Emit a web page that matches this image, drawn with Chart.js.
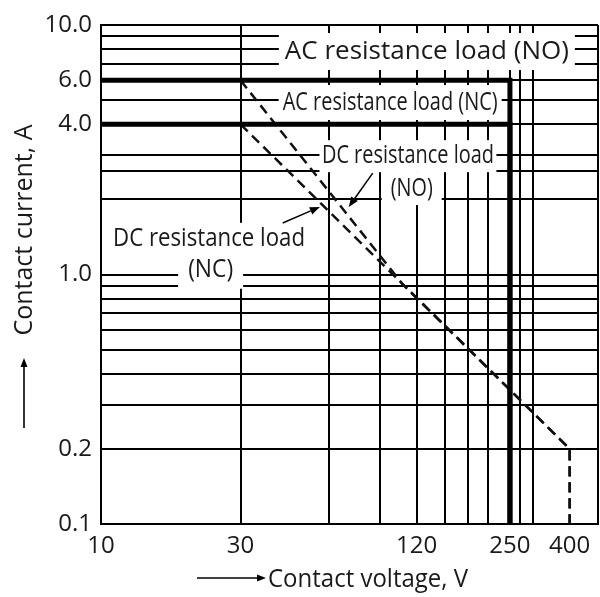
<!DOCTYPE html>
<html>
<head>
<meta charset="utf-8">
<script src="https://cdn.jsdelivr.net/npm/chart.js@4.4.0/dist/chart.umd.min.js"></script>
<style>
  html, body { margin: 0; padding: 0; background: #fff; }
  #wrap { width: 600px; height: 597px; }
</style>
</head>
<body>
<div id="wrap"><canvas id="chart" width="600" height="597"></canvas></div>
<script>
// contact voltage (V) and contact current (A) for each curve
const acNoVoltage = [10, 250, 250];
const acNoCurrent = [6, 6, 0.1];
const acNcVoltage = [10, 250, 250];
const acNcCurrent = [4, 4, 0.1];
const dcNoVoltage = [30, 107, 400, 400];
const dcNoCurrent = [6, 0.92, 0.2, 0.1];
const dcNcVoltage = [30, 107, 400, 400];
const dcNcCurrent = [4, 0.92, 0.2, 0.1];

// grid lines and the few values that get a label
const xGridValues = [10, 30, 60, 90, 120, 150, 180, 210, 250, 270, 300, 400, 500];
const xTickLabels = { 10: '10', 30: '30', 120: '120', 250: '250', 400: '400' };
const yGridValues = [0.1, 0.2, 0.3, 0.4, 0.5, 0.6, 0.7, 0.8, 0.9, 1, 2, 2.6, 3, 4, 5, 6, 7, 8, 9, 10];
const yTickLabels = { 0.1: '0.1', 0.2: '0.2', 1: '1.0', 4: '4.0', 6: '6.0', 10: '10.0' };

const textColor = '#1a1a1a';
const lineColor = '#000';
const family = '"Open Sans", "Noto Sans", sans-serif';

// curve labels, anchored in data units (V, A); box = white knock-out behind the text
const curveLabels = [
  { text: 'AC resistance load (NO)', at: [130, 7.83], size: 26, width: 293, box: [296, 37] },
  { text: 'AC resistance load (NC)', at: [97.4, 4.89], size: 25, width: 215, box: [223, 35] },
  { text: 'DC resistance load', at: [112, 2.98], size: 25, width: 172, box: [177, 32] },
  { text: '(NO)', at: [115.4, 2.21], size: 25, width: 42, box: [60, 33] },
  { text: 'DC resistance load', at: [23.4, 1.39], size: 25, width: 192, box: [198, 32] },
  { text: '(NC)', at: [23.7, 1.04], size: 25, width: 45, box: [65, 37] }
];
const pointers = [
  { from: [84.9, 2.55], to: [70.3, 1.865] },
  { from: [41.8, 1.608], to: [56.0, 1.865] }
];

function toPoints(xs, ys) {
  return xs.map((v, i) => ({ x: v, y: ys[i] }));
}

function arrow(ctx, x1, y1, x2, y2, head, half, width) {
  const a = Math.atan2(y2 - y1, x2 - x1);
  const bx = x2 - head * Math.cos(a);
  const by = y2 - head * Math.sin(a);
  ctx.strokeStyle = lineColor;
  ctx.fillStyle = lineColor;
  ctx.lineWidth = width;
  ctx.beginPath();
  ctx.moveTo(x1, y1);
  ctx.lineTo(bx, by);
  ctx.stroke();
  ctx.beginPath();
  ctx.moveTo(x2, y2);
  ctx.lineTo(bx + half * Math.sin(a), by - half * Math.cos(a));
  ctx.lineTo(bx - half * Math.sin(a), by + half * Math.cos(a));
  ctx.closePath();
  ctx.fill();
}

const labelPlugin = {
  id: 'curveLabels',
  beforeDatasetsDraw(chart) {
    const { ctx, scales: { x, y } } = chart;
    ctx.save();
    curveLabels.forEach((l) => {
      const cx = x.getPixelForValue(l.at[0]);
      const cy = y.getPixelForValue(l.at[1]);
      ctx.fillStyle = '#fff';
      ctx.fillRect(cx - l.box[0] / 2, cy - l.box[1] / 2, l.box[0], l.box[1]);
      ctx.fillStyle = textColor;
      ctx.font = l.size + 'px ' + family;
      ctx.textAlign = 'center';
      ctx.textBaseline = 'middle';
      ctx.fillText(l.text, cx, cy, l.width);
    });
    pointers.forEach((p) => {
      arrow(ctx,
        x.getPixelForValue(p.from[0]), y.getPixelForValue(p.from[1]),
        x.getPixelForValue(p.to[0]), y.getPixelForValue(p.to[1]),
        10, 4, 1.5);
    });
    ctx.restore();
  },
  afterDraw(chart) {
    const { ctx } = chart;
    ctx.save();
    ctx.fillStyle = textColor;
    ctx.font = '25px ' + family;
    ctx.textBaseline = 'middle';

    // x title with its arrow
    ctx.textAlign = 'left';
    ctx.fillText('Contact voltage, V', 268, 580, 200);
    arrow(ctx, 197, 578, 266, 578, 9, 3.5, 1.6);

    // y title, rotated, with its arrow
    ctx.save();
    ctx.translate(25, 230);
    ctx.rotate(-Math.PI / 2);
    ctx.textAlign = 'center';
    ctx.fillStyle = textColor;
    ctx.fillText('Contact current, A', 0, 0, 220);
    ctx.restore();
    arrow(ctx, 24, 428, 24, 358, 9, 3.5, 1.6);
    ctx.restore();
  }
};

const ctx = document.getElementById('chart').getContext('2d');
new Chart(ctx, {
  type: 'scatter',
  data: {
    datasets: [
      {
        label: 'AC resistance load (NO)',
        data: toPoints(acNoVoltage, acNoCurrent),
        borderColor: '#000',
        borderWidth: 5
      },
      {
        label: 'AC resistance load (NC)',
        data: toPoints(acNcVoltage, acNcCurrent),
        borderColor: '#000',
        borderWidth: 5
      },
      {
        label: 'DC resistance load (NO)',
        data: toPoints(dcNoVoltage, dcNoCurrent),
        borderColor: '#111',
        borderWidth: 2.5,
        borderDash: [10, 6]
      },
      {
        label: 'DC resistance load (NC)',
        data: toPoints(dcNcVoltage, dcNcCurrent),
        borderColor: '#111',
        borderWidth: 2.5,
        borderDash: [10, 6]
      }
    ]
  },
  options: {
    responsive: false,
    animation: false,
    showLine: true,
    elements: {
      point: { radius: 0, hoverRadius: 0 },
      line: { borderJoinStyle: 'miter', tension: 0, fill: false }
    },
    layout: { padding: { top: 25, right: 2, left: 0, bottom: 0 } },
    plugins: {
      legend: { display: false },
      tooltip: { enabled: false }
    },
    scales: {
      x: {
        type: 'logarithmic',
        min: 10,
        max: 500,
        afterBuildTicks: (axis) => { axis.ticks = xGridValues.map((v) => ({ value: v })); },
        afterFit: (scale) => {
          scale.height = 73;
          scale.paddingLeft = 0;
          scale.paddingRight = 0;
        },
        ticks: {
          autoSkip: false,
          maxRotation: 0,
          padding: 8,
          color: textColor,
          font: { family: family, size: 24 },
          callback: (value) => xTickLabels[value] || ''
        },
        grid: {
          drawTicks: false,
          lineWidth: 2,
          color: (c) => (c.tick && c.tick.value === 400 ? 'rgba(0,0,0,0)' : lineColor)
        },
        border: { display: true, color: lineColor, width: 2 }
      },
      y: {
        type: 'logarithmic',
        min: 0.1,
        max: 10,
        afterBuildTicks: (axis) => { axis.ticks = yGridValues.map((v) => ({ value: v })); },
        afterFit: (scale) => {
          scale.width = 101;
          scale.paddingTop = 0;
          scale.paddingBottom = 0;
        },
        ticks: {
          autoSkip: false,
          padding: 9,
          color: textColor,
          font: { family: family, size: 24 },
          callback: (value) => yTickLabels[value] || ''
        },
        grid: {
          drawTicks: false,
          lineWidth: 2,
          color: lineColor
        },
        border: { display: true, color: lineColor, width: 2 }
      }
    }
  },
  plugins: [labelPlugin]
});
</script>
</body>
</html>
